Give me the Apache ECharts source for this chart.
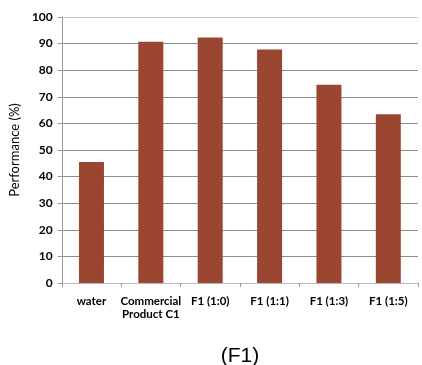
<!DOCTYPE html>
<html><head><meta charset="utf-8">
<script src="https://cdn.jsdelivr.net/npm/echarts@6/dist/echarts.min.js"></script>
<style>html,body{margin:0;padding:0;background:#fff}#c{width:422px;height:365px}</style>
</head><body><div id="c"></div>
<script>
var categories = ['water', 'Commercial\nProduct C1', 'F1 (1:0)', 'F1 (1:1)', 'F1 (1:3)', 'F1 (1:5)'];
var performance = [45.5, 90.7, 92.3, 87.8, 74.5, 63.4];
var yTicks = [0, 10, 20, 30, 40, 50, 60, 70, 80, 90, 100];
var titleText = '(F1)';
var yName = 'Performance (%)';

var chart = echarts.init(document.getElementById('c'), null, {renderer: 'canvas'});
chart.setOption({
  animation: false,
  title: {
    text: titleText, left: 235, top: 340, textAlign: 'center',
    textStyle: {fontFamily: 'Liberation Sans', fontWeight: 'normal', fontSize: 21, lineHeight: 22, color: '#000'}
  },
  grid: {left: 52, right: 4, top: 17, bottom: 82, containLabel: false},
  xAxis: {
    type: 'category', data: categories,
    axisLine: {lineStyle: {color: '#bbb', width: 1}},
    axisTick: {show: true, alignWithLabel: false, length: 4, lineStyle: {color: '#999'}},
    axisLabel: {fontFamily: 'Lato', fontWeight: 'bold', fontSize: 11.5, color: '#000', margin: 12, lineHeight: 13, interval: 0}
  },
  yAxis: {
    type: 'value', min: 0, max: 100, interval: 10,
    name: yName, nameLocation: 'middle', nameGap: 33,
    nameTextStyle: {fontFamily: 'Lato', fontSize: 13, color: '#000'},
    axisLine: {show: true, lineStyle: {color: '#999'}},
    axisTick: {show: true, length: 4, lineStyle: {color: '#999'}},
    axisLabel: {fontFamily: 'Lato', fontWeight: 'bold', fontSize: 12, color: '#000', margin: 9,
      formatter: function (v) { return yTicks.indexOf(v) >= 0 ? String(v) : ''; }},
    splitLine: {show: true, lineStyle: {color: ['#aaa', '#8c8c8c', '#8c8c8c', '#8c8c8c', '#8c8c8c', '#8c8c8c', '#8c8c8c', '#8c8c8c', '#8c8c8c', '#8c8c8c', '#c8c8c8'], width: 1}}
  },
  series: [{
    type: 'bar', data: performance, barWidth: 25,
    itemStyle: {color: '#9B4630'}
  }]
});
</script></body></html>
